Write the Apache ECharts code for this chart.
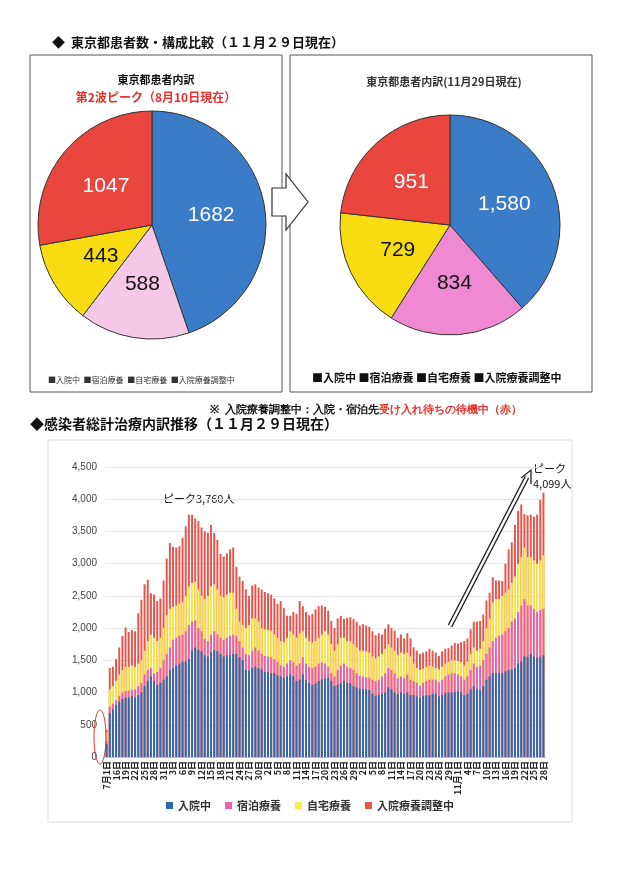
<!DOCTYPE html>
<html><head><meta charset="utf-8">
<script src="https://cdn.jsdelivr.net/npm/echarts@6/dist/echarts.min.js"></script>
<style>html,body{margin:0;background:#fff}#c{width:620px;height:877px}</style>
</head><body><div id="c"></div>
<script>
const pieNames = ['入院中', '宿泊療養', '自宅療養', '入院療養調整中']
const pieAug = [1682, 588, 443, 1047]
const pieNov = [1580, 834, 729, 951]

// x axis: 7/1, then 7/14 .. 11/28
const days = ['7月1日',
  '14日','15日','16日','17日','18日','19日','20日','21日','22日','23日','24日','25日','26日','27日','28日','29日','30日','31日',
  '1日','2日','3日','4日','5日','6日','7日','8日','9日','10日','11日','12日','13日','14日','15日','16日','17日','18日','19日','20日','21日','22日','23日','24日','25日','26日','27日','28日','29日','30日','31日',
  '1日','2日','3日','4日','5日','6日','7日','8日','9日','10日','11日','12日','13日','14日','15日','16日','17日','18日','19日','20日','21日','22日','23日','24日','25日','26日','27日','28日','29日','30日',
  '1日','2日','3日','4日','5日','6日','7日','8日','9日','10日','11日','12日','13日','14日','15日','16日','17日','18日','19日','20日','21日','22日','23日','24日','25日','26日','27日','28日','29日','30日','31日',
  '11月1日','2日','3日','4日','5日','6日','7日','8日','9日','10日','11日','12日','13日','14日','15日','16日','17日','18日','19日','20日','21日','22日','23日','24日','25日','26日','27日','28日']

// levels (cumulative heights)
const hospital = [200,
  680,740,800,860,900,920,920,940,920,960,
  1000,1100,1180,1250,1180,1120,1150,1200,1250,1350,
  1380,1420,1450,1480,1480,1520,1650,1700,1660,1640,
  1580,1560,1620,1660,1640,1600,1560,1580,1580,1600,
  1600,1550,1500,1350,1340,1380,1400,1380,1360,1320,1320,
  1300,1300,1270,1250,1230,1250,1280,1250,1180,1200,
  1280,1200,1150,1120,1140,1180,1200,1220,1230,1180,
  1100,1120,1150,1180,1150,1140,1100,1080,1060,1050,1050,
  1040,980,950,960,980,1000,1080,1050,1000,980,
  1000,980,1000,960,960,940,920,950,960,960,980,
  980,940,960,990,1000,1000,1010,1020,1000,960,
  980,1050,1100,1050,1040,1100,1200,1250,1300,1300,1300,
  1300,1330,1350,1360,1380,1450,1480,1560,1550,1600,1560,1540,1550,1580]
const hotelTop = [250,
  780,830,880,950,1000,1020,1030,1050,1050,1100,
  1150,1280,1350,1380,1300,1320,1380,1500,1600,1700,
  1820,1850,1880,1900,1950,2050,2100,2120,2000,1950,
  1830,1800,1900,1950,1900,1850,1820,1850,1880,1900,
  1880,1800,1700,1600,1580,1650,1700,1650,1600,1570,1560,
  1550,1520,1480,1420,1400,1450,1500,1470,1420,1450,
  1550,1450,1400,1380,1400,1450,1470,1450,1400,1300,
  1250,1350,1420,1450,1400,1380,1350,1300,1260,1250,1240,
  1230,1200,1180,1200,1250,1300,1380,1350,1300,1220,
  1250,1220,1280,1200,1180,1150,1100,1150,1180,1200,1200,
  1200,1160,1200,1250,1280,1300,1300,1280,1250,1200,
  1250,1350,1450,1400,1420,1500,1600,1700,1800,1850,1880,
  1900,1950,2000,2100,2150,2250,2350,2450,2350,2350,2300,2250,2280,2300]
const homeTop = [380,
  1050,1100,1180,1280,1350,1400,1400,1420,1400,1450,
  1500,1650,1800,1900,1850,1800,1850,2000,2200,2300,
  2330,2350,2380,2400,2500,2650,2700,2720,2600,2500,
  2450,2500,2650,2680,2600,2500,2480,2520,2550,2550,
  2300,2100,2050,2000,2050,2150,2150,2100,2000,1980,1970,
  1960,1900,1850,1800,1780,1850,1950,1900,1850,1920,
  1950,1850,1800,1780,1800,1850,1900,1950,1900,1750,
  1650,1750,1850,1850,1800,1800,1750,1700,1650,1650,1640,
  1620,1560,1530,1560,1600,1680,1750,1700,1650,1580,
  1620,1600,1620,1560,1450,1380,1350,1370,1400,1420,1400,
  1380,1360,1400,1450,1480,1500,1500,1490,1470,1420,
  1480,1600,1700,1650,1680,1800,2000,2150,2400,2450,2450,
  2500,2550,2600,2700,2800,3000,3100,3250,3100,3100,3050,3000,3050,3130]
const totalTop = [420,
  1380,1400,1520,1700,1880,2010,1940,1970,1950,2230,
  2440,2680,2750,2540,2520,2420,2460,2740,3080,3320,
  3260,3250,3270,3400,3580,3760,3760,3700,3660,3560,
  3500,3480,3600,3480,3370,3150,3110,3160,3220,3250,
  2950,2800,2730,2600,2500,2660,2680,2630,2600,2560,2540,
  2520,2460,2380,2420,2310,2190,2190,2250,2220,2420,
  2340,2250,2200,2220,2290,2340,2350,2330,2270,2110,
  2000,2150,2190,2140,2160,2170,2140,2100,2040,2060,2040,
  2020,1950,1890,1920,1900,1990,2060,2000,1960,1850,
  1900,1840,1920,1840,1700,1650,1600,1620,1640,1680,1650,
  1620,1570,1640,1680,1690,1730,1770,1760,1780,1800,
  1840,1980,2100,2100,2110,2210,2430,2550,2790,2740,2740,
  2730,3000,3220,3330,3600,3820,3920,3770,3750,3760,3730,3760,3990,4099]

const chart = echarts.init(document.getElementById('c'))
const font = '"Noto Sans CJK JP", sans-serif'

const pieSeries = (data, colors, cx, r, comma) => ({
  type: 'pie',
  center: [cx, 225],
  radius: r,
  startAngle: 90,
  clockwise: true,
  silent: true,
  data: data.map((v, i) => ({ value: v, name: pieNames[i], itemStyle: { color: colors[i] } })),
  itemStyle: { borderColor: '#333', borderWidth: 1 },
  label: {
    position: 'inside',
    fontSize: 21,
    fontFamily: 'Arial, sans-serif',
    formatter: p => comma ? p.value.toLocaleString('en-US') : String(p.value),
    color: '#fff'
  },
  labelLine: { show: false }
})

const pie1 = pieSeries(pieAug, ['#3b7cc9', '#f6c8e8', '#f7dc12', '#e8463f'], 152, 114, false)
pie1.data[1].label = { color: '#111' }
pie1.data[2].label = { color: '#111' }
const pie2 = pieSeries(pieNov, ['#3b7cc9', '#ef8ad2', '#f7dc12', '#e8463f'], 450, 110, true)
pie2.data[1].label = { color: '#111' }
pie2.data[2].label = { color: '#111' }

const txt = (x, y, text, size, extra) => ({
  type: 'text', x, y, silent: true,
  style: Object.assign({ text, fontSize: size, fontFamily: font, fill: '#111' }, extra || {})
})

chart.setOption({
  backgroundColor: '#fff',
  animation: false,
  grid: { left: 105, right: 75, top: 467, bottom: 120 },
  legend: {
    data: ['入院中', '宿泊療養', '自宅療養', '入院療養調整中'],
    top: 795, left: 'center', icon: 'rect',
    itemWidth: 7, itemHeight: 7, itemGap: 14,
    textStyle: { fontSize: 11, fontFamily: font, color: '#333', fontWeight: 'bold' }
  },
  xAxis: {
    type: 'category', data: days,
    axisLine: { lineStyle: { color: '#bbb' } },
    axisTick: { show: false },
    axisLabel: { interval: 2, rotate: 90, fontSize: 9, fontFamily: font, color: '#222', margin: 4, fontWeight: 'bold' }
  },
  yAxis: {
    type: 'value', min: 0, max: 4500, interval: 500,
    axisLabel: { fontSize: 10, color: '#444', formatter: v => v.toLocaleString('en-US') },
    splitLine: { lineStyle: { color: '#e4e4e4' } }
  },
  series: [
    { name: '入院療養調整中', type: 'bar', data: totalTop, barWidth: '62%', barGap: '-100%', itemStyle: { color: '#e9544a' } },
    { name: '自宅療養', type: 'bar', data: homeTop, barWidth: '62%', barGap: '-100%', itemStyle: { color: '#f8ec4a' } },
    { name: '宿泊療養', type: 'bar', data: hotelTop, barWidth: '62%', barGap: '-100%', itemStyle: { color: '#ea62ae' } },
    { name: '入院中', type: 'bar', data: hospital, barWidth: '62%', barGap: '-100%', itemStyle: { color: '#2f68ae' } },
    pie1, pie2
  ],
  graphic: [
    { type: 'rect', shape: { x: 30, y: 55, width: 252, height: 337 }, style: { fill: 'none', stroke: '#555', lineWidth: 1 }, silent: true },
    { type: 'rect', shape: { x: 290, y: 55, width: 302, height: 337 }, style: { fill: 'none', stroke: '#555', lineWidth: 1 }, silent: true },
    { type: 'rect', shape: { x: 48, y: 440, width: 524, height: 382 }, style: { fill: 'none', stroke: '#ddd', lineWidth: 1 }, silent: true },
    { type: 'polygon', silent: true, z: 10,
      shape: { points: [[272, 188], [286, 188], [286, 174], [308, 202], [286, 230], [286, 216], [272, 216]] },
      style: { fill: '#fff', stroke: '#333', lineWidth: 1.2 } },
    txt(52, 36, '◆  東京都患者数・構成比較（１１月２９日現在）', 13, { fontWeight: 'bold' }),
    txt(156, 74, '東京都患者内訳', 11, { fontWeight: 'bold', align: 'center' }),
    txt(156, 91, '第2波ピーク（8月10日現在）', 12, { fontWeight: 'bold', align: 'center', fill: '#e8302a' }),
    txt(444, 76, '東京都患者内訳(11月29日現在)', 11, { fontWeight: 'bold', align: 'center', fill: '#333' }),
    txt(48, 376, '■入院中  ■宿泊療養  ■自宅療養  ■入院療養調整中', 8, { fill: '#333' }),
    txt(312, 372, '■入院中 ■宿泊療養 ■自宅療養 ■入院療養調整中', 11, { fontWeight: 'bold' }),
    { type: 'text', x: 210, y: 404, silent: true,
      style: { text: '{a|※  入院療養調整中：入院・宿泊先}{b|受け入れ待ちの待機中（赤）}', fontFamily: font,
        rich: { a: { fontSize: 11, fontWeight: 'bold', fill: '#111' }, b: { fontSize: 11, fontWeight: 'bold', fill: '#e8302a' } } } },
    txt(30, 417, '◆感染者総計治療内訳推移（１１月２９日現在）', 14, { fontWeight: 'bold' }),
    txt(163, 493, 'ピーク3,760人', 11),
    txt(533, 461, 'ピーク\n4,099人', 11, { lineHeight: 15 }),
    { type: 'line', silent: true, shape: { x1: 450, y1: 626, x2: 527, y2: 477 }, style: { stroke: '#222', lineWidth: 5 }, z: 10 },
    { type: 'line', silent: true, shape: { x1: 450, y1: 626, x2: 527, y2: 477 }, style: { stroke: '#fff', lineWidth: 2.5 }, z: 11 },
    { type: 'polyline', silent: true, shape: { points: [[521, 478], [531, 470], [531, 484]] }, style: { stroke: '#222', fill: 'none', lineWidth: 1.3 }, z: 11 },
    { type: 'ellipse', silent: true, shape: { cx: 100, cy: 737, rx: 6, ry: 27 }, style: { fill: 'none', stroke: '#e03030', lineWidth: 1 }, z: 12 }
  ]
})
</script></body></html>
